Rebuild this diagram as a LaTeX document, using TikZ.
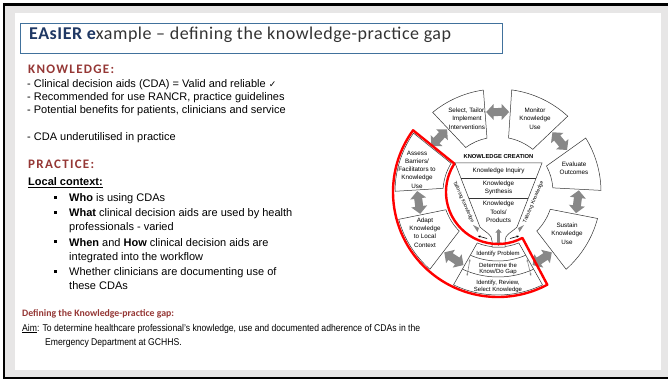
\documentclass[tikz,border=0pt]{standalone}
\usepackage{fontspec}
\setmainfont{Liberation Sans}
\newfontfamily\calib{Carlito}
\newfontfamily\titlefont[LetterSpace=3]{Carlito}
\newfontfamily\headfont[LetterSpace=10]{Carlito}
\newfontfamily\aimfont[FakeStretch=0.88]{Liberation Sans}
\newfontfamily\dejavu{DejaVu Sans}
\usetikzlibrary{calc,arrows.meta}
\definecolor{framegray}{HTML}{E7E6E6}
\definecolor{titleblue}{HTML}{41719C}
\definecolor{titlenavy}{HTML}{1F3864}
\definecolor{headred}{HTML}{953735}
\definecolor{arrowgray}{HTML}{888888}
\definecolor{ktared}{HTML}{FF0000}
% one wedge of the action cycle, between the gaps at angles #2 and #3
\def\ktaseg[#1](#2:#3){\draw[#1] ({#2+gapang(103)}:103) arc ({#2+gapang(103)}:{#3-gapang(103)}:103) -- ({#3-gapang(55)}:55) arc ({#3-gapang(55)}:{#2+gapang(55)}:55) -- cycle;}
% band line inside the bottom wedge
\def\ktaband(#1){\draw[seg] ({236.5+gapang(#1)}:#1) arc ({236.5+gapang(#1)}:{303.5-gapang(#1)}:#1);}

\begin{document}
\begin{tikzpicture}[x=1pt, y=-1pt,
    declare function={gapang(\r)=4+asin(7/\r);},
    seg/.style={draw=black!80, line width=0.5pt, fill=white},
    body/.style={anchor=base west, inner sep=0pt, font=\fontsize{11}{13}\selectfont},
    head/.style={anchor=base west, inner sep=0pt, text=headred, font=\headfont\bfseries\fontsize{13}{15}\selectfont},
    ktatext/.style={inner sep=0pt, align=center, font=\fontsize{6.3}{8.3}\selectfont},
    bandtext/.style={inner sep=0pt, align=center, font=\fontsize{6}{6.8}\selectfont}]
\useasboundingbox (0,0) rectangle (668,379);

%%%%% FRAME %%%%%
\fill[white] (0,0) rectangle (668,379);
\fill[black] (3,3) rectangle (668,378.5);
\fill[framegray] (5,6) rectangle (668,376.5);
\fill[white] (15,13) rectangle (661,370);

\draw[titleblue, line width=0.8pt] (20,23) rectangle (502,53);
\node[anchor=base west, inner sep=0pt, text=black!80, font=\titlefont\fontsize{18}{20}\selectfont] (title) at (29,39.5) {\textcolor{titlenavy}{\bfseries EAsIER e}xample – defining the knowledge-practice gap};

%%%%% KNOWLEDGE %%%%%
\node[head] (knowhead) at (28,74) {KNOWLEDGE:};
\node[body] (know1) at (27,88) {- Clinical decision aids (CDA) = Valid and reliable {\dejavu\fontsize{9}{9}\selectfont ✓}};
\node[body] (know2) at (27,100.8) {- Recommended for use RANCR, practice guidelines};
\node[body] (know3) at (27,113.5) {- Potential benefits for patients, clinicians and service};
\node[body] (know4) at (27,140.8) {- CDA underutilised in practice};

%%%%% PRACTICE %%%%%
\node[head] (prachead) at (28,169) {PRACTICE:};
\node[body] (localctx) at (28,185.7) {\bfseries\underline{Local context:}};
\foreach \yy in {201.7,216.7,246,275.7}
  \fill (53.5,\yy-6) rectangle +(3,3);
\node[body] (who) at (69,201.7) {\textbf{Who} is using CDAs};
\node[body] (what1) at (69,216.7) {\textbf{What} clinical decision aids are used by health};
\node[body] (what2) at (69,230.7) {professionals - varied};
\node[body] (when1) at (69,246) {\textbf{When} and \textbf{How} clinical decision aids are};
\node[body] (when2) at (69,260) {integrated into the workflow};
\node[body] (whether1) at (69,275.7) {Whether clinicians are documenting use of};
\node[body] (whether2) at (69,289.3) {these CDAs};

%%%%% GAP %%%%%
\node[anchor=base west, inner sep=0pt, text=headred, font=\calib\bfseries\fontsize{9.8}{12}\selectfont] (defhead) at (22,316.7) {Defining the Knowledge-practice gap:};
\node[anchor=base west, inner sep=0pt, font=\aimfont\fontsize{9.8}{12}\selectfont] (aim1) at (22,331) {\underline{Aim}: To determine healthcare professional’s knowledge, use and documented adherence of CDAs in the};
\node[anchor=base west, inner sep=0pt, font=\aimfont\fontsize{9.8}{12}\selectfont] (aim2) at (45,345.7) {Emergency Department at GCHHS.};

%%%%% ACTION CYCLE %%%%%
\begin{scope}[shift={(498,192)}, y=1pt]
  \ktaseg[seg](39.5:90.25)
  \ktaseg[seg](90.25:137.25)
  \ktaseg[seg](137.25:187.5)
  \ktaseg[seg](187.5:236.5)
  \ktaseg[seg](236.5:303.5)
  \ktaseg[seg](303.5:353)
  \ktaseg[seg](353:399.5)
  \ktaband(69)
  \ktaband(85)
  \foreach \g in {39.5,90.25,137.25,187.5,236.5,303.5,353}
    \fill[arrowgray, shift={(\g:80)}, rotate=\g+90] (-11.5,0) -- (-4,-8) -- (-4,-4) -- (4,-4) -- (4,-8) -- (11.5,0) -- (4,8) -- (4,4) -- (-4,4) -- (-4,8) -- cycle;
\end{scope}

%%%%% KNOWLEDGE CREATION FUNNEL %%%%%
\draw[seg] (455,163) -- (542,163) -- (517,227) .. controls (511,233) and (505,234) .. (505,241) -- (505,247)
  -- (492,247) -- (492,241) .. controls (492,234) and (486,233) .. (480,227) -- cycle;
\draw[seg] (461,178) -- (536,178);
\draw[seg] (468.7,198) -- (528.3,198);
\draw[arrowgray, line width=2.4pt, {Triangle[length=3.5pt,width=6pt]}-{Triangle[length=3.5pt,width=6pt]}] (498.5,229) -- (498.5,246);
\draw[-{Stealth[length=2.5pt,width=2.2pt]}, line width=0.6pt] (487,238.5) -- (478,236);
\draw[-{Stealth[length=2.5pt,width=2.2pt]}, line width=0.6pt] (510,238.5) -- (519,236);
\draw[arrowgray, line width=0.6pt, {Stealth[length=2.5pt]}-{Stealth[length=2.5pt]}] (470,259) -- (467,276);
\draw[arrowgray, line width=0.6pt, {Stealth[length=2.5pt]}-{Stealth[length=2.5pt]}] (527,259) -- (531,276);
\fill[arrowgray] (473,225) -- (479,228) -- (477.5,232) -- cycle;
\fill[arrowgray] (524,225) -- (518,228) -- (519.5,232) -- cycle;

\node[ktatext, font=\bfseries\fontsize{5.8}{7}\selectfont] (creation) at (498.5,157) {KNOWLEDGE CREATION};
\node[ktatext] (inquiry) at (498.5,171) {Knowledge Inquiry};
\node[ktatext] (synthesis) at (498.5,188) {Knowledge\\Synthesis};
\node[ktatext] (tools) at (498.5,212) {Knowledge\\Tools/\\Products};
\node[ktatext, rotate=-66, font=\fontsize{5}{6}\selectfont] (tailorL) at (463.5,202) {Tailoring Knowledge};
\node[ktatext, rotate=67, font=\fontsize{5}{6}\selectfont] (tailorR) at (533.5,202) {Tailoring Knowledge};

\node[ktatext] (select) at (467,118.7) {Select, Tailor,\\Implement\\Interventions};
\node[ktatext] (monitor) at (535,118.7) {Monitor\\Knowledge\\Use};
\node[ktatext] (evaluate) at (574,168.5) {Evaluate\\Outcomes};
\node[ktatext] (sustain) at (567,233.5) {Sustain\\Knowledge\\Use};
\node[ktatext] (assess) at (417,169.5) {Assess\\Barriers/\\Facilitators to\\Knowledge\\Use};
\node[ktatext] (adapt) at (425,232.5) {Adapt\\Knowledge\\to Local\\Context};
\node[bandtext] (problem) at (498,254) {Identify Problem};
\node[bandtext] (knowdo) at (498,269) {Determine the\\Know/Do Gap};
\node[bandtext] (review) at (498,286.5) {Identify, Review,\\Select Knowledge};

%%%%% HIGHLIGHT %%%%%
\begin{scope}[shift={(498,192)}, y=1pt]
  \draw[ktared, line width=2.4pt, line join=round] (144:105) arc (144:298:105) -- (298:52) arc (298:147:52) -- cycle;
\end{scope}
\end{tikzpicture}
\end{document}
